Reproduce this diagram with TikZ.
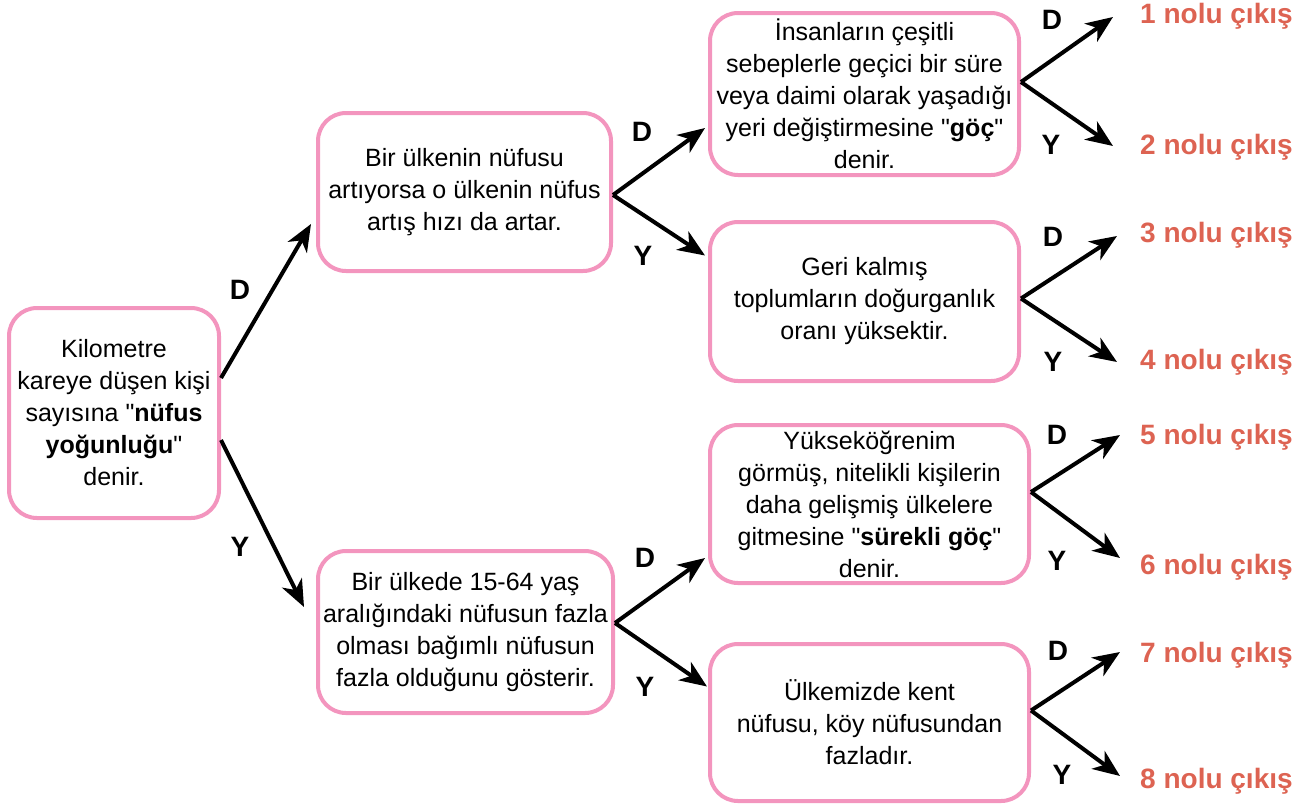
\documentclass[tikz,border=0pt]{standalone}
\usepackage{fontspec}
\setmainfont{Liberation Sans}[Ligatures=TeXOff]
\usetikzlibrary{arrows.meta,calc}
\definecolor{kutupembe}{HTML}{F395BE}
\definecolor{cikiskirmizi}{HTML}{DD6352}
\tikzset{
>={Stealth[length=27pt,width=22pt,inset=8pt]},
  kutu/.style={
    rectangle,
    rounded corners=28pt,
    draw=kutupembe, line width=4pt,
    align=center,
    inner sep=0pt,
    font=\fontsize{25}{32}\selectfont},
  ok/.style={->, line width=4pt},
  harf/.style={font=\fontsize{28}{30}\selectfont\bfseries, inner sep=0pt},
  cikis/.style={font=\fontsize{28}{30}\selectfont\bfseries, text=cikiskirmizi,
    anchor=west, inner sep=0pt},
}
\begin{document}
\begin{tikzpicture}[x=1pt, y=-1pt]
    \useasboundingbox (0,0) rectangle (1307,807);

    % kutular
    \node[kutu, minimum width=210pt, minimum height=210pt] (kok) at (114,413)
         {Kilometre\\kareye düşen kişi\\sayısına "\textbf{nüfus}\\\textbf{yoğunluğu}"\\denir.};
    \node[kutu, minimum width=293pt, minimum height=158pt] (n1) at (464.5,192)
         {Bir ülkenin nüfusu\\artıyorsa o ülkenin nüfus\\artış hızı da artar.};
    \node[kutu, minimum width=295pt, minimum height=162pt] (n2) at (465.5,632)
         {Bir ülkede 15-64 yaş\\aralığındaki nüfusun fazla\\olması bağımlı nüfusun\\fazla olduğunu gösterir.};
    \node[kutu, minimum width=309pt, minimum height=162pt] (n11) at (864.5,94)
         {İnsanların çeşitli\\sebeplerle geçici bir süre\\veya daimi olarak yaşadığı\\yeri değiştirmesine "\textbf{göç}"\\denir.};
    \node[kutu, minimum width=309pt, minimum height=159pt] (n12) at (864.5,301.5)
         {Geri kalmış\\toplumların doğurganlık\\oranı yüksektir.};
    \node[kutu, minimum width=319pt, minimum height=158pt] (n21) at (869.5,504)
         {Yükseköğrenim\\görmüş, nitelikli kişilerin\\daha gelişmiş ülkelere\\gitmesine "\textbf{sürekli göç}"\\denir.};
    \node[kutu, minimum width=319pt, minimum height=157pt] (n22) at (869.5,722.5)
         {Ülkemizde kent\\nüfusu, köy nüfusundan\\fazladır.};

    % cikislar
    \node[cikis] (c1) at (1140,16) {1 nolu çıkış};
    \node[cikis] (c2) at (1140,147) {2 nolu çıkış};
    \node[cikis] (c3) at (1140,235) {3 nolu çıkış};
    \node[cikis] (c4) at (1140,362) {4 nolu çıkış};
    \node[cikis] (c5) at (1140,437) {5 nolu çıkış};
    \node[cikis] (c6) at (1140,567) {6 nolu çıkış};
    \node[cikis] (c7) at (1140,655) {7 nolu çıkış};
    \node[cikis] (c8) at (1140,781) {8 nolu çıkış};

    % oklar
    \draw[ok] ($(kok.east)+(0,-35)$) -- ($(n1.west)+(-5,32)$);
    \draw[ok] ($(kok.east)+(0,27)$) -- ($(n2.west)+(-12,-25)$);
    \draw[ok] ($(n1.east)+(0,3)$) -- ($(n11.west)+(-3,34)$);
    \draw[ok] ($(n1.east)+(0,3)$) -- ($(n12.west)+(-3,-46)$);
    \draw[ok] ($(n2.east)+(0,-9)$) -- ($(n21.west)+(-3,54)$);
    \draw[ok] ($(n2.east)+(0,-9)$) -- ($(n22.west)+(-1,-36)$);
    \draw[ok] ($(n11.east)+(0,-12)$) -- ($(c1.west)+(-27,1)$);
    \draw[ok] ($(n11.east)+(0,-12)$) -- ($(c2.west)+(-27,-1)$);
    \draw[ok] ($(n12.east)+(0,-3)$) -- ($(c3.west)+(-23,1)$);
    \draw[ok] ($(n12.east)+(0,-3)$) -- ($(c4.west)+(-23,0)$);
    \draw[ok] ($(n21.east)+(0,-12)$) -- ($(c5.west)+(-20,-2)$);
    \draw[ok] ($(n21.east)+(0,-12)$) -- ($(c6.west)+(-20,-9)$);
    \draw[ok] ($(n22.east)+(0,-12)$) -- ($(c7.west)+(-20,-3)$);
    \draw[ok] ($(n22.east)+(0,-12)$) -- ($(c8.west)+(-20,-5)$);

    % D / Y
    \node[harf] (d0) at (240,290) {D};
    \node[harf] (y0) at (240,547) {Y};
    \node[harf] (d1) at (642,132) {D};
    \node[harf] (y1) at (643,256) {Y};
    \node[harf] (d2) at (645,558) {D};
    \node[harf] (y2) at (645,687) {Y};
    \node[harf] (d11) at (1052,20) {D};
    \node[harf] (y11) at (1051,145) {Y};
    \node[harf] (d12) at (1053,237) {D};
    \node[harf] (y12) at (1053,362) {Y};
    \node[harf] (d21) at (1057,435) {D};
    \node[harf] (y21) at (1057,561) {Y};
    \node[harf] (d22) at (1058,651) {D};
    \node[harf] (y22) at (1062,775) {Y};
\end{tikzpicture}
\end{document}
